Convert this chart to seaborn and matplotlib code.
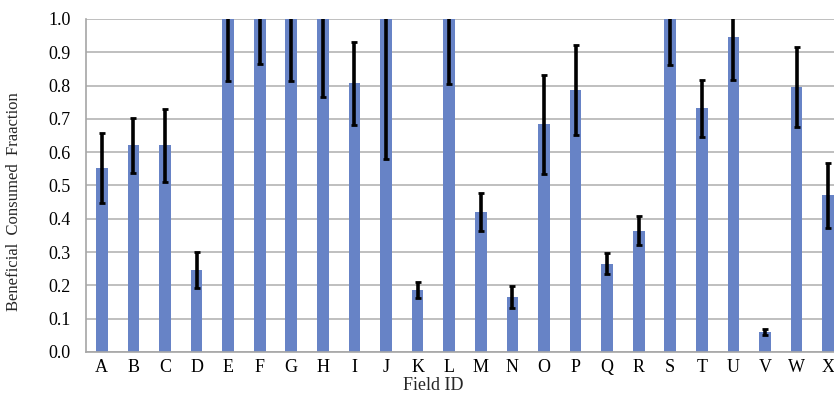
import matplotlib
matplotlib.use("Agg")
import matplotlib.pyplot as plt
import numpy as np
import seaborn as sns

# Field IDs and beneficial consumed fraction (mean and error)
fields = list("ABCDEFGHIJKLMNOPQRSTUVWX")
values = [0.553, 0.621, 0.621, 0.246, 1.0, 1.0, 1.0, 1.0, 0.807, 1.0, 0.186, 1.0,
          0.420, 0.164, 0.684, 0.786, 0.265, 0.364, 1.0, 0.732, 0.945, 0.060, 0.796, 0.470]
errors = [0.105, 0.083, 0.110, 0.055, 0.186, 0.136, 0.186, 0.233, 0.125, 0.419, 0.025, 0.195,
          0.058, 0.033, 0.148, 0.135, 0.032, 0.044, 0.139, 0.086, 0.129, 0.010, 0.120, 0.097]

sns.set_style("white")
plt.rcParams["font.family"] = ["Liberation Serif", "DejaVu Serif"]

fig = plt.figure(figsize=(8.34, 3.95), dpi=100)
ax = fig.add_axes([86 / 834, 1 - 352 / 395, 758 / 834, 333 / 395])

sns.barplot(x=fields, y=values, color="#6783C6", width=0.37, saturation=1,
            linewidth=0, ax=ax)
ax.errorbar(np.arange(len(fields)), values, yerr=errors, fmt="none", ecolor="black",
            elinewidth=2.6, capsize=2.5, capthick=2)

ax.set_ylim(0, 1.0)
ax.set_xlim(-0.5, len(fields) - 0.5)
ax.set_yticks(np.arange(0, 1.01, 0.1))
ax.set_yticklabels([f"{v:.1f}" for v in np.arange(0, 1.01, 0.1)])
ax.yaxis.grid(True, color="#b4b4b4", linewidth=1.2)
ax.set_axisbelow(True)
for side in ["top", "right"]:
    ax.spines[side].set_visible(False)
for side in ["left", "bottom"]:
    ax.spines[side].set_color("#a6a6a6")
    ax.spines[side].set_linewidth(1.2)
ax.tick_params(length=0, labelsize=13, colors="black")
ax.tick_params(axis="y", pad=11)
ax.tick_params(axis="x", pad=5)
ax.set_xlabel("Field ID", fontsize=13)
ax.xaxis.set_label_coords(0.458, -0.076)
ax.set_ylabel("Beneficial  Consumed  Fraaction", fontsize=12)
ax.yaxis.set_label_coords(-0.085, 0.453)

fig.savefig("out.png", dpi=100)
